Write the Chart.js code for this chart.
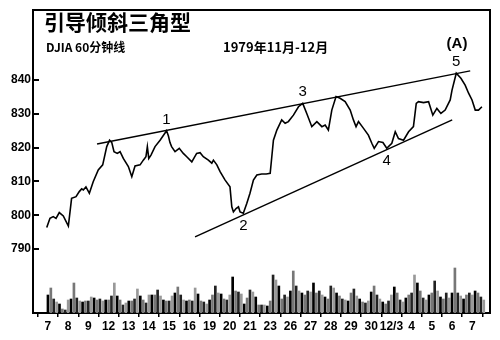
<!DOCTYPE html>
<html lang="zh">
<head>
<meta charset="UTF-8">
<title>引导倾斜三角型</title>
<script src="https://cdn.jsdelivr.net/npm/chart.js"></script>
<style>
  body { margin: 0; background: #fff; }
  canvas { display: block; }
</style>
</head>
<body>
<canvas id="chart" width="500" height="340"></canvas>
<script>
// 标题文字
const titleText = '引导倾斜三角型';
const subText = 'DJIA 60分钟线';
const dateText = '1979年11月-12月';
const panelText = '(A)';

// x 轴: 交易日 (11月7日 - 12月7日)
const dayLabels = ['7', '8', '9', '12', '13', '14', '15', '16', '19', '20', '21', '23',
                   '26', '27', '28', '29', '30', '12/3', '4', '5', '6', '7'];
const priceTicks = [790, 800, 810, 820, 830, 840];

// 60分钟收盘价 (时间以交易日为单位)
const priceT = [-0.06, 0.10, 0.26, 0.40, 0.56, 0.76, 1.01, 1.17, 1.39, 1.55, 1.67, 1.75, 1.88, 2.05,
  2.24, 2.49, 2.71, 2.91, 3.05, 3.16, 3.27, 3.43, 3.57, 3.73, 3.98, 4.15, 4.31, 4.56, 4.72, 4.85,
  4.92, 4.99, 5.10, 5.30, 5.55, 5.87, 5.96, 6.04, 6.12, 6.29, 6.50, 6.70, 6.87, 7.12, 7.36, 7.53,
  7.69, 7.94, 8.11, 8.19, 8.36, 8.52, 8.77, 9.01, 9.10, 9.18, 9.31, 9.43, 9.51, 9.67, 9.84, 10.00,
  10.17, 10.34, 10.58, 10.80, 11.00, 11.08, 11.16, 11.33, 11.57, 11.74, 11.90, 12.15, 12.40, 12.61,
  12.81, 13.06, 13.31, 13.56, 13.72, 13.88, 14.05, 14.26, 14.46, 14.71, 14.96, 15.12, 15.25, 15.37,
  15.62, 15.86, 16.03, 16.15, 16.36, 16.58, 16.77, 17.02, 17.19, 17.35, 17.60, 17.85, 18.09, 18.23,
  18.34, 18.59, 18.84, 19.05, 19.25, 19.45, 19.66, 19.91, 20.00, 20.21, 20.44, 20.65, 20.82, 20.99,
  21.15, 21.31, 21.48];
const priceV = [796.4, 799.1, 799.6, 799.1, 800.8, 799.8, 796.8, 805.0, 805.5, 807.0, 807.8, 807.5, 808.4, 806.5,
  809.9, 813.4, 814.9, 820.3, 822.2, 821.5, 818.8, 818.3, 818.8, 816.8, 814.4, 811.4, 814.6, 814.9, 816.3, 817.3,
  820.3, 816.8, 817.8, 820.3, 822.2, 825.0, 823.5, 821.5, 820.3, 818.8, 819.8, 818.3, 817.3, 815.8, 818.3, 818.5,
  817.3, 816.3, 815.4, 816.3, 814.9, 812.9, 810.4, 808.4, 802.5, 801.0, 802.0, 802.5, 801.0, 800.6, 803.5, 806.5,
  810.4, 811.9, 812.2, 812.2, 812.4, 817.3, 822.2, 825.2, 828.2, 827.2, 827.7, 829.6, 832.1, 833.1,
  830.1, 826.2, 827.7, 826.2, 826.7, 825.2, 831.1, 835.1, 834.6, 833.6, 831.1, 828.2, 826.2, 827.7,
  825.7, 823.7, 821.3, 819.8, 821.8, 821.5, 819.8, 821.3, 824.7, 822.7, 822.2, 824.7, 826.2, 833.1,
  833.6, 833.3, 833.6, 829.6, 831.6, 830.1, 831.1, 834.1, 837.0, 842.0, 840.5, 838.5, 836.1, 834.1,
  831.1, 831.1, 832.1];

// 趋势线 (起点, 终点)
const upperLineT = [2.43, 20.90];
const upperLineV = [821.1, 842.7];
const lowerLineT = [7.28, 20.01];
const lowerLineV = [793.6, 828.2];

// 波浪标记: 标签, 对应价格点序号
const waveLabels = ['1', '2', '3', '4', '5'];
const waveIndex = [35, 59, 75, 96, 113];

// 每小时成交量 (每日约7根)
const volumeByDay = [
  [18, 25, 14, 11, 9, 4, 3],
  [13, 14, 30, 15, 12, 11, 12],
  [12, 16, 15, 13, 14, 12, 13],
  [13, 17, 30, 17, 13, 8, 10],
  [12, 12, 14, 24, 17, 13, 10],
  [18, 18, 18, 23, 17, 13, 12],
  [12, 17, 20, 26, 18, 13, 12],
  [13, 12, 25, 19, 12, 11, 9],
  [13, 18, 27, 20, 19, 14, 13],
  [18, 36, 22, 21, 19, 9, 15],
  [23, 21, 16, 8, 8, 8, 7],
  [12, 38, 33, 27, 14, 18, 16],
  [22, 42, 27, 22, 20, 18, 22],
  [21, 30, 20, 22, 18, 16, 14],
  [27, 25, 20, 17, 14, 13, 12],
  [20, 24, 17, 14, 11, 10, 12],
  [21, 27, 18, 14, 11, 9, 12],
  [18, 26, 20, 13, 11, 15, 18],
  [20, 38, 30, 22, 15, 13, 18],
  [20, 32, 22, 16, 14, 20, 15],
  [20, 45, 20, 17, 14, 18, 20],
  [18, 22, 20, 16, 13]
];

const pricePoints = priceT.map((t, i) => ({ x: t, y: priceV[i] }));
const volumePoints = volumeByDay.flatMap((vals, d) =>
  vals.map((v, k) => ({ x: d + k / 7, y: v })));

const tickFont = { family: 'Liberation Sans, Arial, sans-serif', size: 12, weight: 'bold' };
const cjk = '"Noto Sans CJK SC", sans-serif';

// 画框、内向刻度、文字
const decorations = {
  id: 'decorations',
  afterDraw(chart) {
    const { ctx, chartArea: a, scales } = chart;
    const w = a.right - a.left;
    const h = a.bottom - a.top;
    ctx.save();
    ctx.fillStyle = '#000';
    // 外框
    ctx.fillRect(a.left - 1, a.top - 1, w + 2, 2);
    ctx.fillRect(a.left - 1, a.top - 1, 2, h + 2);
    ctx.fillRect(a.right - 1, a.top - 1, 2, h + 2);
    // y 轴内向刻度
    priceTicks.forEach(v => {
      const y = Math.round(scales.y.getPixelForValue(v));
      ctx.fillRect(a.left, y - 1, 6, 2);
    });

    ctx.textBaseline = 'middle';
    ctx.textAlign = 'left';
    ctx.font = 'bold 21px ' + cjk;
    ctx.fillText(titleText, a.left + 11, 22);
    ctx.font = 'bold 12px ' + cjk;
    ctx.fillText(subText, a.left + 13, 47);
    ctx.font = 'bold 13px ' + cjk;
    ctx.fillText(dateText, a.left + 190, 47);
    ctx.textAlign = 'center';
    ctx.font = 'bold 15px Liberation Sans, Arial, sans-serif';
    ctx.fillText(panelText, 457, 44);

    const meta = chart.getDatasetMeta(0);
    ctx.font = '15px Liberation Sans, Arial, sans-serif';
    waveLabels.forEach((lab, i) => {
      const p = meta.data[waveIndex[i]];
      const below = i % 2 === 1;
      ctx.fillText(lab, p.x, p.y + (below ? 13 : -11));
    });
    ctx.restore();
  }
};

new Chart(document.getElementById('chart'), {
  data: {
    datasets: [
      {
        type: 'line',
        data: pricePoints,
        yAxisID: 'y',
        borderColor: '#000',
        borderWidth: 1.6,
        pointRadius: 0,
        tension: 0
      },
      {
        type: 'line',
        data: upperLineT.map((t, i) => ({ x: t, y: upperLineV[i] })),
        yAxisID: 'y',
        borderColor: '#000',
        borderWidth: 1.5,
        pointRadius: 0
      },
      {
        type: 'line',
        data: lowerLineT.map((t, i) => ({ x: t, y: lowerLineV[i] })),
        yAxisID: 'y',
        borderColor: '#000',
        borderWidth: 1.5,
        pointRadius: 0
      },
      {
        type: 'bar',
        data: volumePoints,
        yAxisID: 'vol',
        barThickness: 2,
        backgroundColor: c => ['#000', '#777', '#222', '#999'][c.dataIndex % 4]
      }
    ]
  },
  options: {
    responsive: false,
    animation: false,
    layout: { padding: { top: 10, right: 10, left: 0, bottom: 0 } },
    plugins: { legend: { display: false }, tooltip: { enabled: false } },
    scales: {
      x: {
        type: 'linear',
        offset: false,
        min: -0.74,
        max: 21.88,
        afterBuildTicks: s => { s.ticks = dayLabels.map((_, i) => ({ value: i })); },
        afterFit: s => { s.height = 27; },
        ticks: {
          callback: (v, i) => dayLabels[i],
          font: tickFont,
          color: '#000',
          padding: 2,
          maxRotation: 0,
          autoSkip: false
        },
        grid: { drawOnChartArea: false, tickLength: 4, color: '#000', lineWidth: 1.5 },
        border: { color: '#000', width: 2 }
      },
      y: {
        position: 'left',
        min: 771.1,
        max: 860.7,
        afterBuildTicks: s => { s.ticks = priceTicks.map(v => ({ value: v })); },
        afterFit: s => { s.width = 33; },
        ticks: { font: tickFont, color: '#000', padding: 2 },
        grid: { drawOnChartArea: false, drawTicks: false },
        border: { color: '#000', width: 2 }
      },
      vol: {
        display: false,
        min: 0,
        max: 303
      }
    }
  },
  plugins: [decorations]
});
</script>
</body>
</html>
